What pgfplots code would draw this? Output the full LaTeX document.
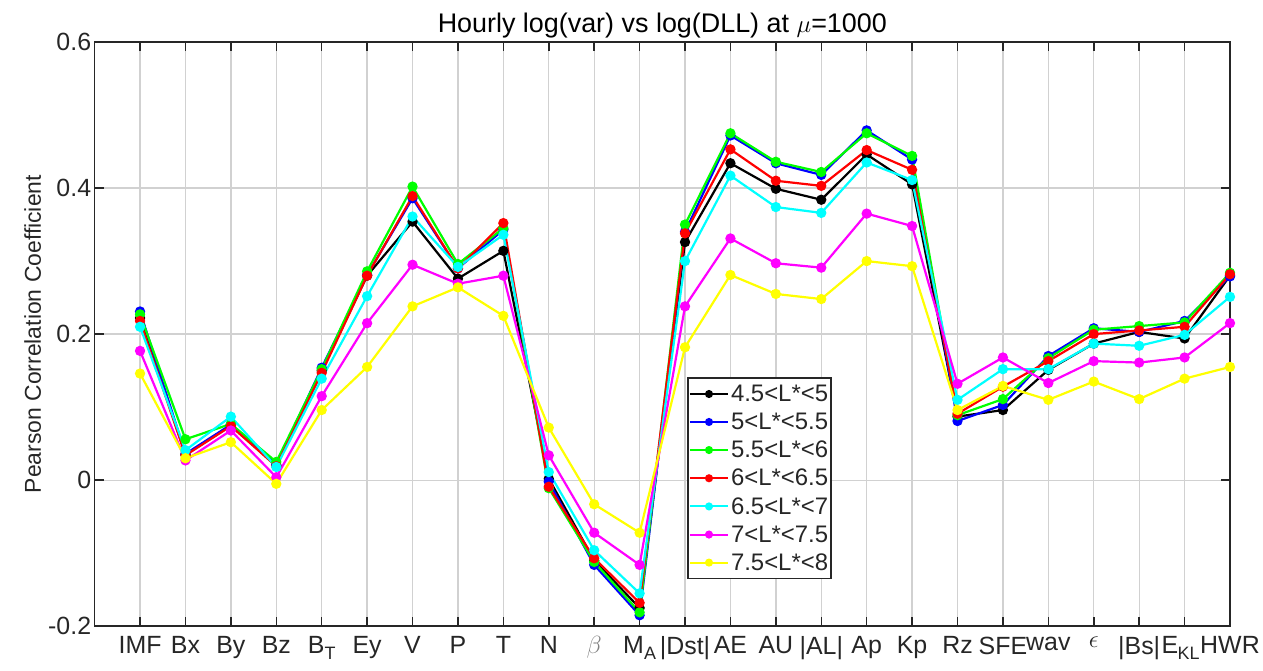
\documentclass[border=0pt]{standalone}
\usepackage{pgfplots}
\usepackage{pgfplotstable}
\pgfplotsset{compat=1.18}
\usepackage{fontspec}
\setmainfont{Liberation Sans}

% columns: category index, then one column per L* band
\pgfplotstableread{
x  c1     c2     c3     c4     c5     c6     c7
1  0.222  0.231  0.227  0.218  0.210  0.177  0.146
2  0.035  0.036  0.056  0.034  0.041  0.027  0.030
3  0.075  0.076  0.077  0.074  0.087  0.068  0.052
4  0.020  0.021  0.025  0.019  0.018  0.004  -0.005
5  0.150  0.154  0.152  0.147  0.139  0.115  0.096
6  0.280  0.281  0.286  0.280  0.252  0.215  0.155
7  0.354  0.386  0.402  0.389  0.361  0.295  0.238
8  0.276  0.290  0.296  0.290  0.292  0.269  0.264
9  0.314  0.343  0.345  0.352  0.336  0.280  0.225
10 0.002  -0.002 -0.011 -0.009 0.011  0.034  0.072
11 -0.110 -0.116 -0.112 -0.107 -0.096 -0.072 -0.033
12 -0.175 -0.185 -0.181 -0.168 -0.155 -0.116 -0.072
13 0.326  0.340  0.350  0.338  0.300  0.238  0.182
14 0.434  0.472  0.475  0.453  0.417  0.331  0.281
15 0.399  0.434  0.436  0.410  0.374  0.297  0.255
16 0.384  0.418  0.422  0.403  0.366  0.291  0.248
17 0.446  0.479  0.475  0.452  0.435  0.365  0.300
18 0.405  0.439  0.444  0.425  0.411  0.348  0.293
19 0.087  0.081  0.089  0.091  0.110  0.132  0.096
20 0.096  0.103  0.111  0.128  0.152  0.168  0.129
21 0.151  0.170  0.167  0.163  0.152  0.133  0.110
22 0.187  0.208  0.206  0.200  0.187  0.163  0.135
23 0.203  0.203  0.211  0.205  0.184  0.161  0.111
24 0.194  0.218  0.216  0.210  0.199  0.168  0.139
25 0.280  0.279  0.284  0.282  0.251  0.215  0.155
}\datatable

\definecolor{mblack}{RGB}{0,0,0}
\definecolor{mblue}{RGB}{0,0,255}
\definecolor{mgreen}{RGB}{0,255,0}
\definecolor{mred}{RGB}{255,0,0}
\definecolor{mcyan}{RGB}{0,255,255}
\definecolor{mmagenta}{RGB}{255,0,255}
\definecolor{myellow}{RGB}{255,255,0}
\definecolor{txt}{RGB}{38,38,38}

% MATLAB-style subscript: lower and fairly large
\newcommand{\sub}[1]{\raisebox{-0.4ex}{\fontsize{18}{18}\selectfont #1}}

\begin{document}
\begin{tikzpicture}
\begin{axis}[
  name=ax,
  scale only axis,
  width=1135bp, height=584bp,
  xmin=0, xmax=25,
  ymin=-0.2, ymax=0.6,
  xtick={1,...,25},
  xticklabels={IMF,Bx,By,Bz,B\sub{T},Ey,V,P,T,N,\textcolor{black!50}{$\beta$},M\sub{A},|Dst|,AE,AU,|AL|,Ap,Kp,Rz,SFE,wav,$\epsilon$,|Bs|,\kern-8bp E\kern-0.5bp\sub{KL},HWR},
  ytick={-0.2,0,0.2,0.4,0.6},
  yticklabel style={/pgf/number format/fixed,/pgf/number format/precision=1},
  /pgf/number format/assume math mode=true,
  tick label style={font=\fontsize{25}{29}\selectfont, text=txt},
  xticklabel style={yshift=-7bp, inner xsep=0bp},
  ylabel={Pearson Correlation Coefficient},
  ylabel style={font=\fontsize{23}{26}\selectfont, text=txt,
    at={(axis description cs:-0.044,0.5)}, anchor=south},
  title={Hourly log(var) vs log(DLL) at $\mu$=1000},
  title style={font=\fontsize{27}{30}\selectfont, yshift=-6bp},
  grid=major,
  major grid style={black!18, line width=1.3bp},
  axis line style={black!85, line width=1.5bp},
  major tick length=9bp,
  tick style={black!85, line width=1.5bp},
  clip=false,
  every axis plot/.append style={line width=2.2bp, mark=*, mark size=4bp},
  legend style={at={(0.522,0.426)}, anchor=north west, draw=black!85,
    line width=1.4bp, font=\fontsize{24}{28}\selectfont, text=txt,
    inner xsep=1bp, inner ysep=2bp, row sep=0bp,
    nodes={inner ysep=5bp}},
  legend cell align=left,
  legend image code/.code={\draw[mark repeat=2,mark phase=2,mark size=3bp,line width=2bp] plot coordinates {(0bp,0bp)(19bp,0bp)(38bp,0bp)};},
]
\addplot[color=mblack] table[x=x,y=c1] {\datatable};
\addplot[color=mblue] table[x=x,y=c2] {\datatable};
\addplot[color=mgreen] table[x=x,y=c3] {\datatable};
\addplot[color=mred] table[x=x,y=c4] {\datatable};
\addplot[color=mcyan] table[x=x,y=c5] {\datatable};
\addplot[color=mmagenta] table[x=x,y=c6] {\datatable};
\addplot[color=myellow] table[x=x,y=c7] {\datatable};
\legend{4.5<L*<5,5<L*<5.5,5.5<L*<6,6<L*<6.5,6.5<L*<7,7<L*<7.5,7.5<L*<8}
\end{axis}
\pgfresetboundingbox
\path[use as bounding box] ([shift={(-94.6bp,-44bp)}]ax.south west) rectangle ([shift={(33bp,42bp)}]ax.north east);
\end{tikzpicture}
\end{document}
